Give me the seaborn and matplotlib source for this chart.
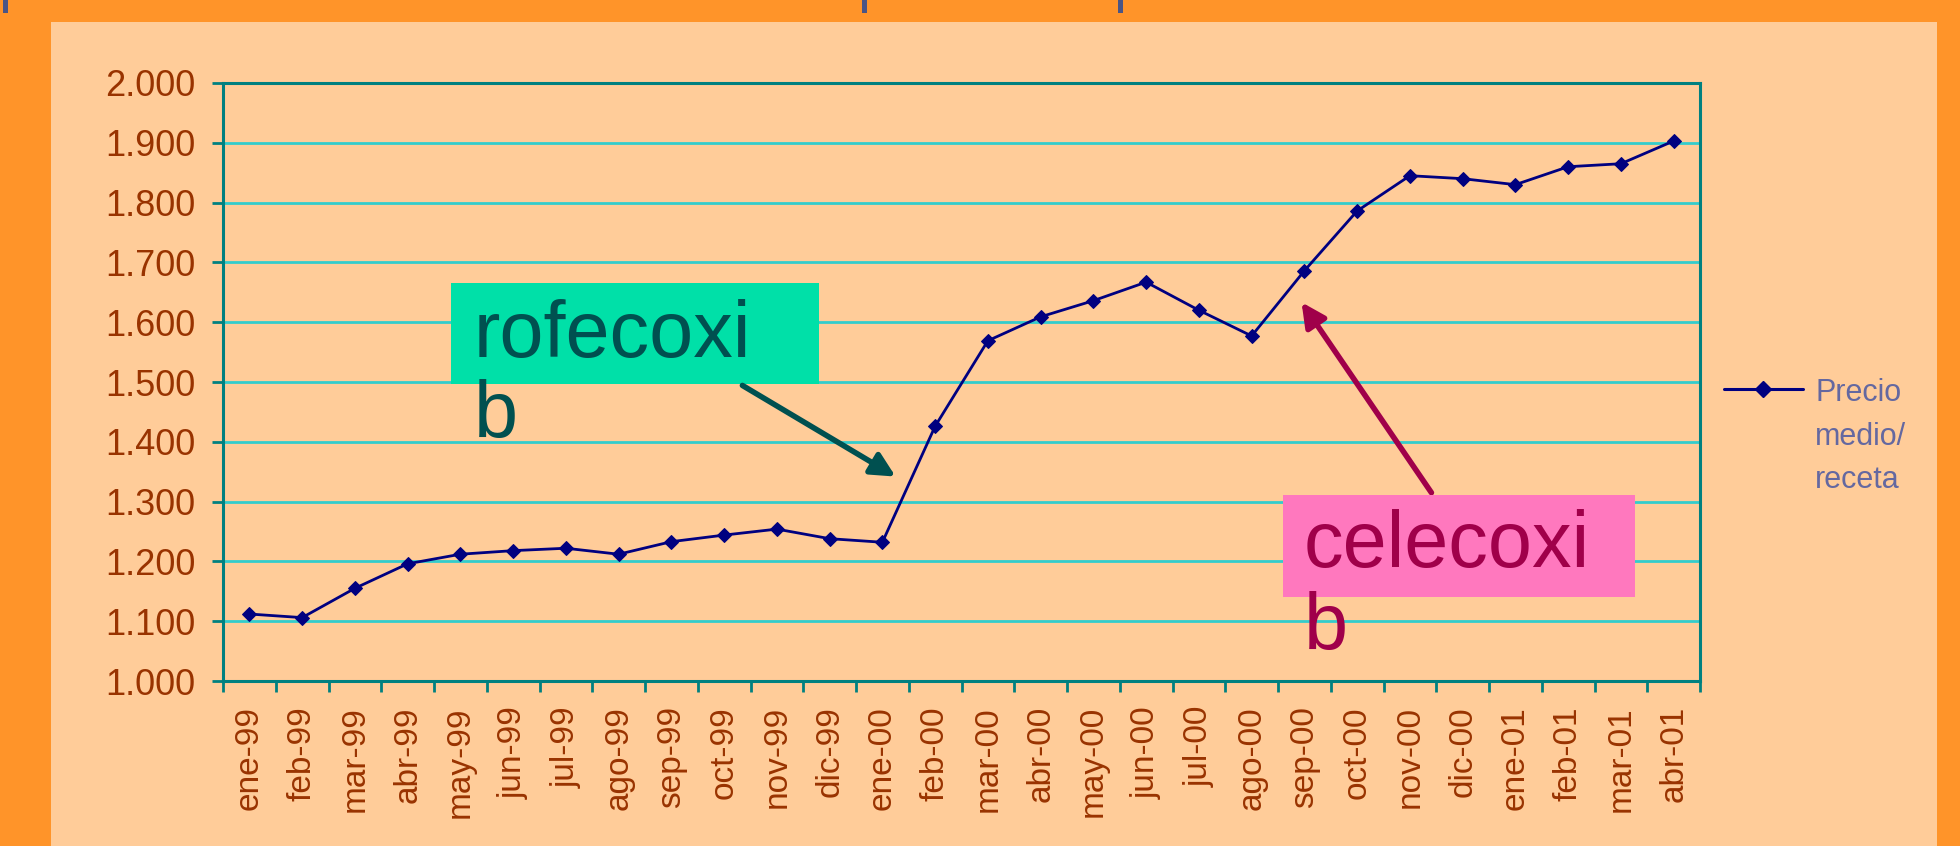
import matplotlib
matplotlib.use("Agg")
import matplotlib.pyplot as plt
import matplotlib.patches as mpatches
from matplotlib.lines import Line2D
import seaborn as sns
import pandas as pd

months = ['ene-99', 'feb-99', 'mar-99', 'abr-99', 'may-99', 'jun-99', 'jul-99',
          'ago-99', 'sep-99', 'oct-99', 'nov-99', 'dic-99', 'ene-00', 'feb-00',
          'mar-00', 'abr-00', 'may-00', 'jun-00', 'jul-00', 'ago-00', 'sep-00',
          'oct-00', 'nov-00', 'dic-00', 'ene-01', 'feb-01', 'mar-01', 'abr-01']
precio = [1112, 1106, 1155, 1196, 1212, 1218, 1222, 1212, 1233, 1244, 1254, 1238,
          1232, 1426, 1569, 1609, 1636, 1667, 1620, 1577, 1686, 1786, 1845, 1840,
          1830, 1860, 1865, 1903]
yticks = [1000, 1100, 1200, 1300, 1400, 1500, 1600, 1700, 1800, 1900, 2000]
ytick_labels = ['1.000', '1.100', '1.200', '1.300', '1.400', '1.500',
                '1.600', '1.700', '1.800', '1.900', '2.000']

df = pd.DataFrame({'mes': months, 'precio': precio})

sns.set_style("white")
plt.rcParams['font.family'] = ['Liberation Sans', 'DejaVu Sans']

W, H = 1960, 846
fig = plt.figure(figsize=(19.6, 8.46), dpi=100)
fig.patch.set_facecolor('#FF9429')

# peach panel and small marks in the top strip
fig.add_artist(mpatches.Rectangle((51 / W, 0), (1937 - 51) / W, 1 - 22 / H,
                                  transform=fig.transFigure, facecolor='#FFCC99',
                                  edgecolor='none', zorder=0))
for xm in [6, 865, 1121]:
    fig.add_artist(mpatches.Rectangle(((xm - 3) / W, 1 - 13 / H), 5 / W, 13 / H,
                                      transform=fig.transFigure, facecolor='#4A5585',
                                      edgecolor='none', zorder=1))

ax = fig.add_axes([223 / W, 1 - 681 / H, (1700 - 223) / W, (681 - 83) / H])
ax.set_facecolor('none')

sns.lineplot(data=df, x='mes', y='precio', ax=ax, color='#000080', linewidth=2,
             marker='D', markersize=7.5, markeredgecolor='#000080', sort=False,
             legend=False)

ax.set_xlim(-0.5, len(months) - 0.5)
ax.set_ylim(1000, 2000)
ax.set_yticks(yticks)
ax.set_yticklabels(ytick_labels)
ax.set_xticks(range(len(months)))
ax.set_xticklabels(months, rotation=90)
ax.set_xticks([i - 0.5 for i in range(len(months) + 1)], minor=True)
ax.tick_params(axis='x', which='major', length=0, pad=18, labelsize=24,
               labelcolor='#993300')
ax.tick_params(axis='x', which='minor', length=8, width=2, color='#008080',
               direction='out')
ax.tick_params(axis='y', length=8, width=2, color='#008080', direction='out',
               pad=12, labelsize=26, labelcolor='#993300')
ax.tick_params(left=True, bottom=True, which='both')
ax.set_xlabel('')
ax.set_ylabel('')
ax.grid(axis='y', color='#33CCCC', linewidth=2)
ax.grid(axis='x', visible=False)
for s in ax.spines.values():
    s.set_visible(True)
    s.set_color('#008080')
    s.set_linewidth(2.2)

# rofecoxib label
fig.add_artist(mpatches.Rectangle((451 / W, 1 - 384 / H), (819 - 451) / W, (384 - 283) / H,
                                  transform=fig.transFigure, facecolor='#00E0A8',
                                  edgecolor='none', zorder=5))
fig.text(474 / W, 1 - 357 / H, 'rofecoxi', fontsize=57, color='#005050',
         va='baseline', ha='left', zorder=6)
fig.text(474 / W, 1 - 437 / H, 'b', fontsize=57, color='#005050',
         va='baseline', ha='left', zorder=6)
fig.add_artist(mpatches.FancyArrowPatch((740 / W, 1 - 384 / H), (898 / W, 1 - 478 / H),
                                        transform=fig.transFigure, arrowstyle='-|>',
                                        mutation_scale=36, color='#005050',
                                        linewidth=4, zorder=6))

# celecoxib label
fig.add_artist(mpatches.Rectangle((1283 / W, 1 - 597 / H), (1635 - 1283) / W, (597 - 495) / H,
                                  transform=fig.transFigure, facecolor='#FF78BE',
                                  edgecolor='none', zorder=5))
fig.text(1304 / W, 1 - 567 / H, 'celecoxi', fontsize=57, color='#A0004A',
         va='baseline', ha='left', zorder=6)
fig.text(1304 / W, 1 - 649 / H, 'b', fontsize=57, color='#A0004A',
         va='baseline', ha='left', zorder=6)
fig.add_artist(mpatches.FancyArrowPatch((1433 / W, 1 - 495 / H), (1300 / W, 1 - 300 / H),
                                        transform=fig.transFigure, arrowstyle='-|>',
                                        mutation_scale=36, color='#A0004A',
                                        linewidth=4, zorder=4))

# legend
fig.add_artist(Line2D([1724 / W, 1803 / W], [1 - 389 / H, 1 - 389 / H],
                      transform=fig.transFigure, color='#000080', linewidth=2.2,
                      zorder=6))
fig.add_artist(Line2D([1763 / W], [1 - 389 / H], transform=fig.transFigure,
                      color='#000080', marker='D', markersize=8, zorder=6))
for i, word in enumerate(['Precio', 'medio/', 'receta']):
    fig.text(1815 / W, 1 - (401 + 43.5 * i) / H, word, fontsize=22, color='#6468A0',
             va='baseline', ha='left')

fig.savefig('out.png', dpi=100, facecolor=fig.get_facecolor())
